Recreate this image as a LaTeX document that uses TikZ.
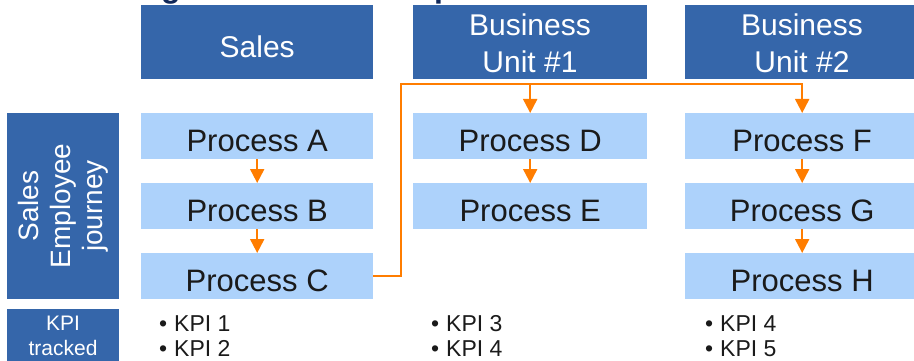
\documentclass[tikz,border=0pt]{standalone}
\usepackage{fontspec}
\setmainfont{Liberation Sans}
\usetikzlibrary{arrows.meta}
\definecolor{hdrblue}{RGB}{53,102,170}
\definecolor{procblue}{RGB}{173,210,251}
\definecolor{arrorange}{RGB}{255,125,0}
\definecolor{txtdark}{RGB}{26,26,26}
\definecolor{titlenavy}{RGB}{16,40,90}
\begin{document}
\begin{tikzpicture}[x=1pt,y=-1pt,
  hdrbox/.style={fill=hdrblue, draw=none, minimum height=74pt, inner sep=0pt,
    anchor=north west, text=white, font=\fontsize{30}{36}\selectfont,
    text height=30pt, text depth=0pt},
  hdrtxt/.style={anchor=base, inner sep=0pt, text=white, font=\fontsize{30}{36}\selectfont},
  procbox/.style={fill=procblue, draw=none, minimum height=46pt, inner sep=0pt,
    anchor=north west, text=txtdark, font=\fontsize{31}{37}\selectfont,
    text height=30pt, text depth=0pt},
  kpiitem/.style={anchor=base west, inner sep=0pt, text=txtdark, font=\fontsize{23}{28}\selectfont},
  sidetxt/.style={anchor=base, inner sep=0pt, text=white, font=\fontsize{21}{25}\selectfont},
  arr/.style={draw=arrorange, line width=2pt, -{Triangle[width=14pt,length=14pt]}},
  titlefrag/.style={anchor=base west, inner sep=0pt, text=titlenavy, font=\bfseries\fontsize{32}{38}\selectfont}
]
\clip (0,0) rectangle (914,361);

% title fragments (cut off at top edge)
\node[titlefrag] (tg) at (161,-2.5) {g};
\node[titlefrag] (tp) at (434,-2.5) {p};

% column headers
\node[hdrbox, minimum width=232pt] (sales) at (141,5) {Sales};
\node[hdrbox, minimum width=234pt] (bu1) at (413,5) {};
\node[hdrtxt] (bu1a) at (530,36) {Business};
\node[hdrtxt] (bu1b) at (530,73) {Unit \#1};
\node[hdrbox, minimum width=234pt] (bu2) at (685,5) {};
\node[hdrtxt] (bu2a) at (802,36) {Business};
\node[hdrtxt] (bu2b) at (802,73) {Unit \#2};

% row headers
\node[fill=hdrblue, draw=none, rotate=90, minimum width=186pt, minimum height=112pt,
  inner sep=0pt, align=center, text=white, font=\fontsize{28}{32}\selectfont]
  (journey) at (63,206) {Sales\\Employee\\journey};
\node[fill=hdrblue, draw=none, anchor=north west, minimum width=112pt, minimum height=70pt,
  inner sep=0pt] (kpibox) at (7,309) {};
\node[sidetxt] (kpil1) at (63,330) {KPI};
\node[sidetxt] (kpil2) at (63,355) {tracked};

% processes
\node[procbox, minimum width=232pt] (pa) at (141,113) {Process A};
\node[procbox, minimum width=232pt] (pb) at (141,183) {Process B};
\node[procbox, minimum width=232pt] (pc) at (141,253) {Process C};
\node[procbox, minimum width=234pt] (pd) at (413,113) {Process D};
\node[procbox, minimum width=234pt] (pe) at (413,183) {Process E};
\node[procbox, minimum width=234pt] (pf) at (685,113) {Process F};
\node[procbox, minimum width=234pt] (pg) at (685,183) {Process G};
\node[procbox, minimum width=234pt] (ph) at (685,253) {Process H};

% connectors
\draw[arr] (pa) -- (pb);
\draw[arr] (pb) -- (pc);
\draw[arr] (pd) -- (pe);
\draw[arr] (pf) -- (pg);
\draw[arr] (pg) -- (ph);
\coordinate (jl) at (401,84);
\coordinate (jr) at (pf.north |- jl);
\draw[arr] (pc.east) -| (jl) -- (jr) -- (pf.north);
\draw[arr] (pd.north |- jl) -- (pd.north);

% KPIs
\node[kpiitem] (k1) at (159,331) {•\hspace{7pt}KPI 1};
\node[kpiitem] (k2) at (159,356) {•\hspace{7pt}KPI 2};
\node[kpiitem] (k3) at (431,331) {•\hspace{7pt}KPI 3};
\node[kpiitem] (k4) at (431,356) {•\hspace{7pt}KPI 4};
\node[kpiitem] (k5) at (705,331) {•\hspace{7pt}KPI 4};
\node[kpiitem] (k6) at (705,356) {•\hspace{7pt}KPI 5};
\end{tikzpicture}
\end{document}
